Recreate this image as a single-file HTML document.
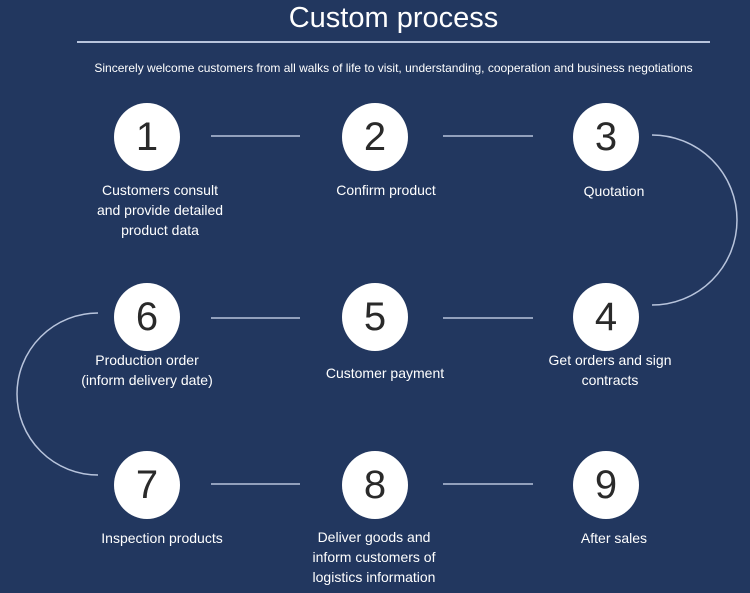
<!DOCTYPE html><html><head><style>
body{margin:0;width:750px;height:593px;background:#22375f;overflow:hidden;font-family:"Liberation Sans",sans-serif;color:#fff;position:relative}
.t{position:absolute;text-align:center}
.c{position:absolute;width:66px;height:68px;border-radius:50%;background:#fff;color:#2a2a2a;font-size:40px;line-height:68px;text-align:center}
.l{position:absolute;width:200px;text-align:center;font-size:14px;line-height:20px;transform:translateX(-50%)}
</style></head><body>
<div class="t" style="left:0;width:787px;top:2px;font-size:29px">Custom process</div>
<div style="position:absolute;left:77px;top:41px;width:633px;height:2px;background:#b8c4dc"></div>
<div class="t" style="left:0;width:787px;top:61px;font-size:12px;letter-spacing:0">Sincerely welcome customers from all walks of life to visit, understanding, cooperation and business negotiations</div>
<svg width="750" height="593" style="position:absolute;left:0;top:0" fill="none" stroke="#b8c4dc" stroke-width="1.5">
<line x1="211" y1="136" x2="300" y2="136"/><line x1="443" y1="136" x2="533" y2="136"/>
<line x1="211" y1="318" x2="300" y2="318"/><line x1="443" y1="318" x2="533" y2="318"/>
<line x1="211" y1="484" x2="300" y2="484"/><line x1="443" y1="484" x2="533" y2="484"/>
<path d="M652 135 A85 85 0 0 1 652 305"/>
<path d="M98 313 A81 81 0 0 0 98 475"/>
</svg>
<div class="c" style="left:114px;top:103px">1</div>
<div class="c" style="left:342px;top:103px">2</div>
<div class="c" style="left:573px;top:103px">3</div>
<div class="c" style="left:114px;top:283px">6</div>
<div class="c" style="left:342px;top:283px">5</div>
<div class="c" style="left:573px;top:283px">4</div>
<div class="c" style="left:114px;top:451px">7</div>
<div class="c" style="left:342px;top:451px">8</div>
<div class="c" style="left:573px;top:451px">9</div>
<div class="l" style="left:160px;top:180px">Customers consult<br>and provide detailed<br>product data</div>
<div class="l" style="left:386px;top:180px">Confirm product</div>
<div class="l" style="left:614px;top:181px">Quotation</div>
<div class="l" style="left:147px;top:350px">Production order<br>(inform delivery date)</div>
<div class="l" style="left:385px;top:363px">Customer payment</div>
<div class="l" style="left:610px;top:350px">Get orders and sign<br>contracts</div>
<div class="l" style="left:162px;top:528px">Inspection products</div>
<div class="l" style="left:374px;top:527px">Deliver goods and<br>inform customers of<br>logistics information</div>
<div class="l" style="left:614px;top:528px">After sales</div>
</body></html>
